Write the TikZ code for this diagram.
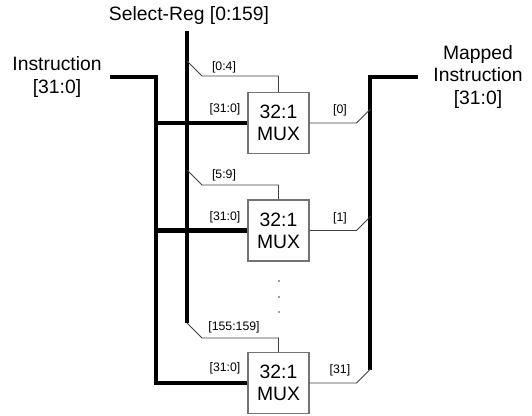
\documentclass[tikz,border=0pt]{standalone}
\usepackage{fontspec}
\setmainfont{Liberation Sans}
\tikzstyle{mux} = [draw=black!55, line width=0.6pt, minimum width=1.22cm, minimum height=1.22cm, inner sep=0pt, align=center, font=\fontsize{11}{12.5}\selectfont]
\tikzstyle{sig} = [align=center, font=\fontsize{11}{13}\selectfont]
\tikzstyle{lbl} = [inner sep=0pt, font=\fontsize{7}{8}\selectfont]
\tikzstyle{bus} = [line width=2.3pt]
\tikzstyle{wire} = [draw=black!75, line width=0.55pt]

\begin{document}
\begin{tikzpicture}
  \useasboundingbox (0,0) rectangle (10.64,8.32);
  % signal names
  \node (sel) at (3.78,8.0) [sig] {Select-Reg [0:159]};
  \node (ins) at (1.14,6.78) [sig] {Instruction\\{}[31:0]};
  \node (out) at (9.56,6.78) [sig] {Mapped\\Instruction\\{}[31:0]};
  % the muxes
  \node (m1) at (5.57,5.86) [mux] {32:1\\MUX};
  \node (m2) at (5.57,3.71) [mux] {32:1\\MUX};
  \node (m3) at (5.57,0.66) [mux] {32:1\\MUX};
  % bus corners and taps
  \coordinate (s0) at (3.74,7.7);
  \coordinate (s1) at (3.74,1.86);
  \coordinate (t1) at (3.74,7.1);
  \coordinate (t2) at (3.74,4.92);
  \coordinate (i0) at (2.2,6.78);
  \coordinate (i1) at (3.12,6.78);
  \coordinate (o0) at (8.36,6.78);
  \coordinate (o1) at (7.4,6.78);
  \coordinate (o2) at (7.4,0.92);
  % thick buses
  \draw [bus] (s0) -- (s1);
  \draw [bus] (i0) -- (i1) |- (m3.west);
  \draw [bus] (i1 |- m1.west) -- (m1.west);
  \draw [bus] (i1 |- m2.west) -- (m2.west);
  \draw [bus] (o0) -- (o1) -- (o2);
  % select lines
  \draw [wire] (t1) -- ++(0.3,-0.3) -| (m1.north);
  \draw [wire] (t2) -- ++(0.3,-0.3) -| (m2.north);
  \draw [wire] (s1) -- ++(0.3,-0.3) -| (m3.north);
  % output bits
  \draw [wire] (m1.east) -- ++(0.94,0) -- ++(0.28,0.28);
  \draw [wire] (m2.east) -- ++(0.94,0) -- ++(0.28,0.28);
  \draw [wire] (m3.east) -- ++(0.94,0) -- ++(0.28,0.28);
  % bit ranges
  \node (r1) at (4.48,6.98) [lbl] {[0:4]};
  \node (r2) at (4.48,4.82) [lbl] {[5:9]};
  \node (r3) at (4.68,1.78) [lbl] {[155:159]};
  \node (d1) at (4.5,6.14) [lbl] {[31:0]};
  \node (d2) at (4.5,3.98) [lbl] {[31:0]};
  \node (d3) at (4.5,0.96) [lbl] {[31:0]};
  \node (b1) at (6.8,6.12) [lbl] {[0]};
  \node (b2) at (6.8,3.96) [lbl] {[1]};
  \node (b3) at (6.8,0.92) [lbl] {[31]};
  % vertical dots
  \foreach \y in {2.08,2.38,2.7}
    \fill [black!75] (5.58,\y) circle (0.55pt);
\end{tikzpicture}
\end{document}
